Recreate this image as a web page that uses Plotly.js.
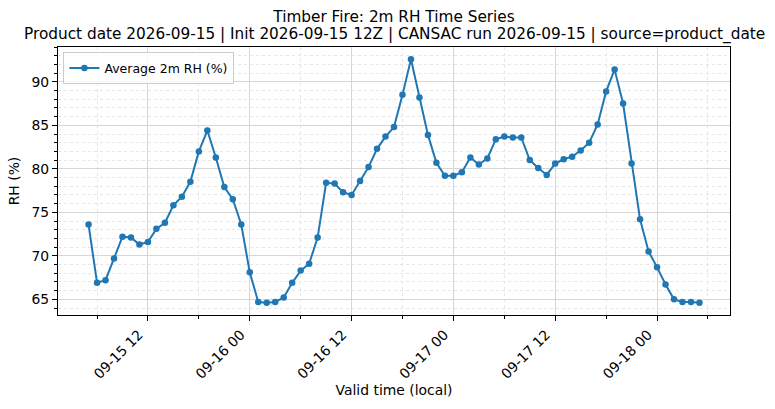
<!DOCTYPE html>
<html>
<head>
<meta charset="utf-8">
<script src="https://cdn.plot.ly/plotly-3.0.1.min.js"></script>
<style>
  html, body { margin: 0; padding: 0; background: #fff; }
  #chart { width: 775px; height: 409px; }
</style>
</head>
<body>
<div id="chart"></div>
<script>
// valid times (local), hourly from 09-15 05:00 to 09-18 05:00
var validTimes = [
  '2026-09-15 05:00', '2026-09-15 06:00', '2026-09-15 07:00', '2026-09-15 08:00',
  '2026-09-15 09:00', '2026-09-15 10:00', '2026-09-15 11:00', '2026-09-15 12:00',
  '2026-09-15 13:00', '2026-09-15 14:00', '2026-09-15 15:00', '2026-09-15 16:00',
  '2026-09-15 17:00', '2026-09-15 18:00', '2026-09-15 19:00', '2026-09-15 20:00',
  '2026-09-15 21:00', '2026-09-15 22:00', '2026-09-15 23:00',
  '2026-09-16 00:00', '2026-09-16 01:00', '2026-09-16 02:00', '2026-09-16 03:00',
  '2026-09-16 04:00', '2026-09-16 05:00', '2026-09-16 06:00', '2026-09-16 07:00',
  '2026-09-16 08:00', '2026-09-16 09:00', '2026-09-16 10:00', '2026-09-16 11:00',
  '2026-09-16 12:00', '2026-09-16 13:00', '2026-09-16 14:00', '2026-09-16 15:00',
  '2026-09-16 16:00', '2026-09-16 17:00', '2026-09-16 18:00', '2026-09-16 19:00',
  '2026-09-16 20:00', '2026-09-16 21:00', '2026-09-16 22:00', '2026-09-16 23:00',
  '2026-09-17 00:00', '2026-09-17 01:00', '2026-09-17 02:00', '2026-09-17 03:00',
  '2026-09-17 04:00', '2026-09-17 05:00', '2026-09-17 06:00', '2026-09-17 07:00',
  '2026-09-17 08:00', '2026-09-17 09:00', '2026-09-17 10:00', '2026-09-17 11:00',
  '2026-09-17 12:00', '2026-09-17 13:00', '2026-09-17 14:00', '2026-09-17 15:00',
  '2026-09-17 16:00', '2026-09-17 17:00', '2026-09-17 18:00', '2026-09-17 19:00',
  '2026-09-17 20:00', '2026-09-17 21:00', '2026-09-17 22:00', '2026-09-17 23:00',
  '2026-09-18 00:00', '2026-09-18 01:00', '2026-09-18 02:00', '2026-09-18 03:00',
  '2026-09-18 04:00', '2026-09-18 05:00'
];

// average 2m RH (%)
var avgRH = [
  73.6, 66.9, 67.2, 69.7, 72.2, 72.1, 71.3, 71.6, 73.1, 73.8, 75.8, 76.8,
  78.5, 82.0, 84.4, 81.3, 77.9, 76.5, 73.6,
  68.1, 64.7, 64.6, 64.7, 65.2, 66.9, 68.3, 69.1, 72.1, 78.4, 78.3, 77.3,
  77.0, 78.6, 80.2, 82.3, 83.7, 84.8, 88.5, 92.6, 88.2, 83.9, 80.7, 79.2,
  79.2, 79.6, 81.3, 80.5, 81.2, 83.4, 83.7, 83.6, 83.6, 81.0, 80.1, 79.3,
  80.6, 81.1, 81.4, 82.1, 83.0, 85.1, 88.9, 91.4, 87.5, 80.6, 74.2, 70.5,
  68.7, 66.7, 65.0, 64.7, 64.7, 64.6
];

var yTicks = [65, 70, 75, 80, 85, 90];

var titleLine1 = 'Timber Fire: 2m RH Time Series';
var titleLine2 = 'Product date 2026-09-15 | Init 2026-09-15 12Z | CANSAC run 2026-09-15 | source=product_date';

// axis ranges with the usual 5% padding
var HOUR = 3600000;
var t0 = new Date(validTimes[0].replace(' ', 'T') + ':00Z').getTime();
var t1 = new Date(validTimes[validTimes.length - 1].replace(' ', 'T') + ':00Z').getTime();
var padX = (t1 - t0) * 0.05;
function fmt(ms) {
  return new Date(ms).toISOString().replace('T', ' ').slice(0, 19);
}
var yMin = Math.min.apply(null, avgRH), yMax = Math.max.apply(null, avgRH);
var padY = (yMax - yMin) * 0.05;

var FONT = 'DejaVu Sans, sans-serif';

var trace = {
  x: validTimes,
  y: avgRH,
  name: 'Average 2m RH (%)',
  type: 'scatter',
  mode: 'lines+markers',
  line: { color: '#1f77b4', width: 2 },
  marker: { color: '#1f77b4', size: 6.5 }
};

var layout = {
  width: 775,
  height: 409,
  margin: { l: 58, r: 45, t: 47, b: 94 },
  paper_bgcolor: '#fff',
  plot_bgcolor: '#fff',
  font: { family: FONT, size: 13.9, color: '#000' },
  title: {
    text: titleLine1,
    font: { family: FONT, size: 15.3, color: '#000' },
    x: 0.5, xref: 'paper', xanchor: 'center',
    y: 1 - 16.5 / 409, yref: 'container', yanchor: 'middle'
  },
  // second title line
  annotations: [{
    text: titleLine2,
    font: { family: FONT, size: 15.3, color: '#000' },
    xref: 'paper', yref: 'paper',
    x: 0.5, xanchor: 'center',
    y: (315 - 34.5) / 268, yanchor: 'middle',
    showarrow: false
  }],
  showlegend: true,
  legend: {
    x: 0.008, y: 0.98, xanchor: 'left', yanchor: 'top',
    bgcolor: 'rgba(255,255,255,0.8)',
    bordercolor: '#cccccc', borderwidth: 1,
    font: { family: FONT, size: 12.5, color: '#000' },
    itemwidth: 30
  },
  xaxis: {
    type: 'date',
    range: [fmt(t0 - padX), fmt(t1 + padX)],
    tick0: '2026-09-15 00:00',
    dtick: 12 * HOUR,
    tickformat: '%m-%d %H',
    tickangle: -45,
    ticklabelshift: -9,
    ticks: 'outside', ticklen: 5, tickwidth: 1, tickcolor: '#000',
    showline: true, linecolor: '#000', linewidth: 1, mirror: true,
    showgrid: true, gridcolor: '#d6d6d6', gridwidth: 1,
    zeroline: false,
    minor: {
      tick0: '2026-09-15 00:00', dtick: 6 * HOUR,
      ticks: 'outside', ticklen: 3, tickcolor: '#000',
      showgrid: true, gridcolor: '#e6e6e6', griddash: 'dot', gridwidth: 1
    },
    title: { text: 'Valid time (local)', font: { family: FONT, size: 13.9 }, standoff: 4 }
  },
  yaxis: {
    range: [yMin - padY, yMax + padY],
    tickvals: yTicks,
    ticktext: yTicks.map(String),
    ticks: 'outside', ticklen: 5, tickwidth: 1, tickcolor: '#000',
    showline: true, linecolor: '#000', linewidth: 1, mirror: true,
    showgrid: true, gridcolor: '#d6d6d6', gridwidth: 1,
    zeroline: false,
    minor: {
      dtick: 1, tick0: 0,
      ticks: 'outside', ticklen: 3, tickcolor: '#000',
      showgrid: true, gridcolor: '#e6e6e6', griddash: 'dot', gridwidth: 1
    },
    title: { text: 'RH (%)', font: { family: FONT, size: 13.9 }, standoff: 8 }
  }
};

Plotly.newPlot('chart', [trace], layout, { staticPlot: true, displayModeBar: false });
</script>
</body>
</html>
